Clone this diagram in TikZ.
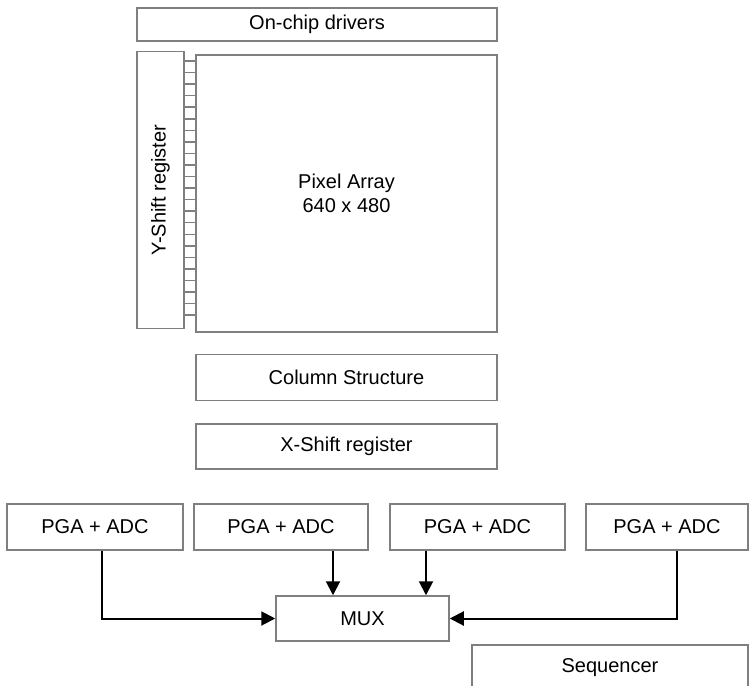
\documentclass[tikz,border=0pt]{standalone}
\usepackage{fontspec}
\setmainfont{Liberation Sans}
\usetikzlibrary{arrows.meta}
\definecolor{boxgray}{HTML}{7F7F7F}
\begin{document}
\begin{tikzpicture}[x=0.5pt, y=-0.5pt,
    blk/.style={draw=boxgray, line width=0.75pt, rectangle, inner sep=0pt,
        font=\fontsize{10}{12}\selectfont},
    arr/.style={-{Triangle[length=7pt, width=7pt]}, line width=1pt, black}]
    \useasboundingbox (0,0) rectangle (749,685);

    % Sensor core
    \node[blk, minimum width=180pt, minimum height=16.5pt] (drv) at (317, 24.5) {On-chip drivers};
    \node[blk, minimum width=23.5pt, minimum height=138.5pt] (ysr) at (160.5, 190) {};
    \node[rotate=90, font=\fontsize{10}{12}\selectfont] (ysrtext) at (ysr.center) {Y-Shift register};
    \node[blk, minimum width=150.5pt, minimum height=138.5pt, align=center] (pix) at (346.5, 193.5)
        {Pixel Array\\640 x 480};

    % Row lines between shift register and array
    \foreach \y in {0,...,22}
        \draw[boxgray, line width=0.75pt] (ysr.east |- 0,{61+11.55*\y}) -- (pix.west |- 0,{61+11.55*\y});

    % Readout
    \node[blk, minimum width=150.5pt, minimum height=23pt] (col) at (346.5, 377.5) {Column Structure};
    \node[blk, minimum width=150.5pt, minimum height=22.5pt] (xsr) at (346.5, 446.5) {X-Shift register};

    % Converters
    \node[blk, minimum width=88pt, minimum height=23pt] (pga1) at (95, 527) {PGA + ADC};
    \node[blk, minimum width=87pt, minimum height=23pt] (pga2) at (281, 527) {PGA + ADC};
    \node[blk, minimum width=87.5pt, minimum height=23pt] (pga3) at (477.5, 527) {PGA + ADC};
    \node[blk, minimum width=81pt, minimum height=23pt] (pga4) at (667, 527) {PGA + ADC};
    \node[blk, minimum width=86.5pt, minimum height=22.5pt] (mux) at (362.5, 618.5) {MUX};
    \node[blk, minimum width=138pt, minimum height=23pt] (seq) at (610, 668) {Sequencer};

    % Converter outputs
    \draw[arr] (pga1.south -| 102,0) |- (mux.west);
    \draw[arr] (pga2.south -| 333,0) -- (mux.north -| 333,0);
    \draw[arr] (pga3.south -| 426,0) -- (mux.north -| 426,0);
    \draw[arr] (pga4.south -| 677,0) |- (mux.east);
\end{tikzpicture}
\end{document}
